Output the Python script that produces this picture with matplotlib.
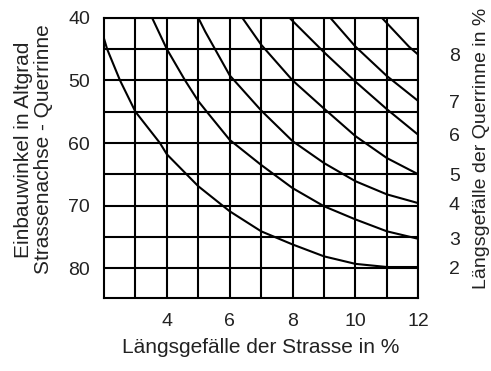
import numpy as np
import matplotlib
matplotlib.use("Agg")
import matplotlib.pyplot as plt

plt.rcParams['font.family'] = ['Liberation Sans', 'DejaVu Sans']

# Längsgefälle der Strasse (%) -> Einbauwinkel (Grad), eine Kurve je Querrinnen-Gefälle
q2_x = [2.0, 2.1, 2.51, 3.0, 3.78, 4.0, 5.0, 6.0, 7.0, 8.0, 9.0, 10.0, 11.0, 12.0]
q2_y = [43.3, 45.0, 50.0, 55.0, 60.0, 61.8, 66.9, 70.9, 74.1, 76.2, 78.1, 79.3, 79.8, 79.8]

q3_x = [3.53, 4.0, 4.58, 5.0, 5.27, 6.0, 7.0, 8.0, 9.0, 10.0, 11.0, 12.0]
q3_y = [40.0, 45.0, 50.0, 53.3, 55.0, 59.5, 63.5, 67.2, 70.1, 72.2, 74.1, 75.3]

q4_x = [5.0, 5.22, 6.0, 7.0, 8.0, 9.0, 10.0, 11.0, 12.0]
q4_y = [40.0, 42.2, 49.2, 54.8, 59.7, 63.2, 66.1, 68.2, 69.6]

q5_x = [6.4, 7.0, 8.0, 9.0, 10.0, 11.0, 12.0]
q5_y = [40.0, 44.3, 50.0, 54.5, 58.9, 62.4, 65.0]

q6_x = [7.9, 9.0, 10.0, 11.0, 12.0]
q6_y = [40.0, 45.5, 50.2, 54.6, 58.7]

q7_x = [9.2, 10.0, 11.0, 12.0]
q7_y = [40.0, 44.6, 49.3, 53.3]

q8_x = [10.84, 11.7, 12.0]
q8_y = [40.0, 44.6, 45.9]

curves = [(q2_x, q2_y), (q3_x, q3_y), (q4_x, q4_y), (q5_x, q5_y),
          (q6_x, q6_y), (q7_x, q7_y), (q8_x, q8_y)]
curve_labels = ['2', '3', '4', '5', '6', '7', '8']

fs = 14
txt = '#222222'

fig = plt.figure(figsize=(4.91, 3.71), dpi=100)
ax = fig.add_axes([0.2118, 0.1976, 0.852 - 0.2118, 0.952 - 0.1976])

for cx, cy in curves:
    ax.plot(cx, cy, color='black', lw=1.5)

ax.set_xlim(2, 12)
ax.set_ylim(84.7, 40)

ax.set_xticks([4, 6, 8, 10, 12])
ax.set_xticks(np.arange(3, 12), minor=True)
ax.set_yticks([40, 50, 60, 70, 80])
ax.set_yticks([45, 55, 65, 75], minor=True)
ax.grid(True, which='both', color='black', lw=1.5)
ax.tick_params(which='both', length=0, labelsize=fs, colors=txt)
ax.tick_params(axis='x', pad=11)
ax.tick_params(axis='y', pad=10)
for s in ax.spines.values():
    s.set_linewidth(1.5)

ax.set_xlabel('Längsgefälle der Strasse in %', fontsize=15, color=txt, labelpad=6)
ax.set_ylabel('Einbauwinkel in Altgrad\nStrassenachse - Querrinne', fontsize=15,
              color=txt, linespacing=1.1)
ax.yaxis.set_label_coords(-0.162, 0.53)

# Beschriftung rechts an den Kurvenenden
ax2 = ax.twinx()
ax2.set_ylim(ax.get_ylim())
ax2.set_yticks([cy[-1] for cx, cy in curves])
ax2.set_yticklabels(curve_labels)
ax2.tick_params(length=0, labelsize=fs, colors=txt, pad=22)
for s in ax2.spines.values():
    s.set_visible(False)
ax2.set_ylabel('Längsgefälle der Querrinne in %', fontsize=fs, color=txt)
ax2.yaxis.set_label_coords(1.175, 0.535)

fig.savefig('out.png', dpi=100)
